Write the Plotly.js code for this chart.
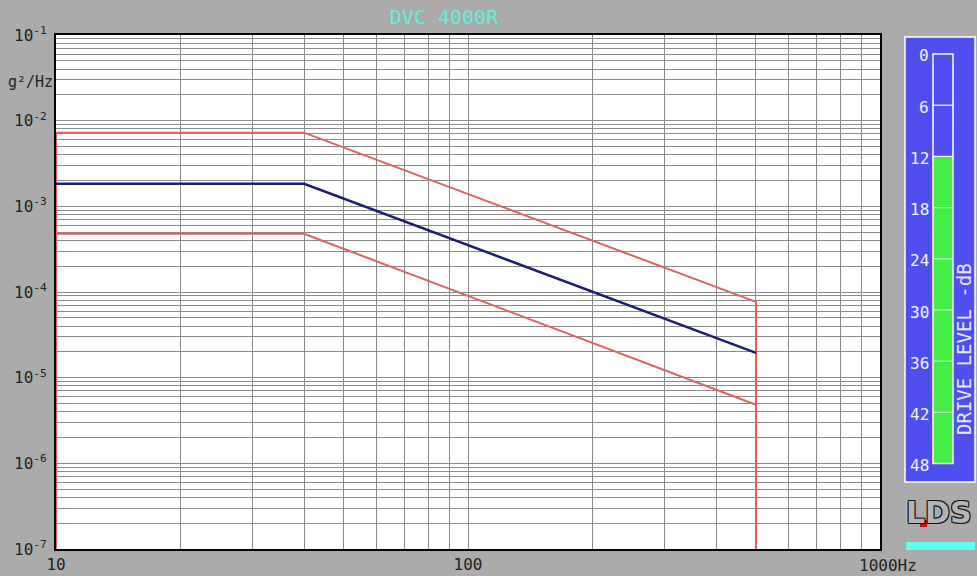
<!DOCTYPE html>
<html>
<head>
<meta charset="utf-8">
<script src="https://cdn.plot.ly/plotly-3.0.1.min.js"></script>
<style>html,body{margin:0;padding:0;background:#ababab;}#chart{width:977px;height:576px;}</style>
</head>
<body>
<div id="chart"></div>
<script>
// ---- data ----
const upperFreq = [10, 10, 40, 500, 500];
const upperPsd  = [1e-7, 7.25e-3, 7.25e-3, 7.67e-5, 1e-7];
const refFreq   = [10, 40, 500];
const refPsd    = [1.83e-3, 1.83e-3, 1.95e-5];
const lowerFreq = [10, 40, 500];
const lowerPsd  = [4.77e-4, 4.77e-4, 4.83e-6];

const xDecades = [10, 100];
const yDecades = [1e-7, 1e-6, 1e-5, 1e-4, 1e-3, 1e-2];
const yTickLabels = ['10<sup>-7</sup>','10<sup>-6</sup>','10<sup>-5</sup>','10<sup>-4</sup>','10<sup>-3</sup>','10<sup>-2</sup>','10<sup>-1</sup>'];
const xTickLabels = ['10', '100'];
const meterLabels = ['0','6','12','18','24','30','36','42','48'];
const driveLevelDb = 12;

// ---- grid positions (1..9 per decade) ----
const xVals = [], xText = [];
xDecades.forEach((d, i) => { for (let k = 1; k <= 9; k++) { xVals.push(d * k); xText.push(k === 1 ? xTickLabels[i] : ' '); } });
xVals.push(1000); xText.push(' ');
const yVals = [], yText = [];
yDecades.forEach((d, i) => { for (let k = 1; k <= 9; k++) { yVals.push(d * k); yText.push(k === 1 ? yTickLabels[i] : ' '); } });
yVals.push(1e-1); yText.push(yTickLabels[6]);

// pixel -> paper helpers for the side panel
const L = 56, R = 880, T = 35, B = 549;
const px = v => (v - L) / (R - L);
const py = v => (B - v) / (B - T);

const mono = 'DejaVu Sans Mono, Liberation Mono, monospace';
const red = '#e06060', navy = '#1c1c7a';

const traces = [
  {x: upperFreq, y: upperPsd, mode: 'lines', line: {color: red, width: 2}, hoverinfo: 'skip'},
  {x: lowerFreq, y: lowerPsd, mode: 'lines', line: {color: red, width: 2}, hoverinfo: 'skip'},
  {x: refFreq, y: refPsd, mode: 'lines', line: {color: navy, width: 2.5}, hoverinfo: 'skip'}
];

const shapes = [];
const annotations = [];
// side panel
shapes.push({type: 'rect', xref: 'paper', yref: 'paper', x0: px(905), x1: px(975), y0: py(482), y1: py(37),
  fillcolor: '#4f4ff0', line: {color: '#ffffff', width: 1.5}, layer: 'above'});
const mTop = 54, mStep = 51.2;
const mY = i => mTop + i * mStep;
const greenTop = mY(driveLevelDb / 6);
shapes.push({type: 'rect', xref: 'paper', yref: 'paper', x0: px(933), x1: px(953), y0: py(mY(8)), y1: py(greenTop),
  fillcolor: '#44ee44', line: {width: 0}, layer: 'above'});
shapes.push({type: 'rect', xref: 'paper', yref: 'paper', x0: px(933), x1: px(953), y0: py(mY(8)), y1: py(mY(0)),
  fillcolor: 'rgba(0,0,0,0)', line: {color: '#ffffff', width: 1.5}, layer: 'above'});
meterLabels.forEach((lab, i) => {
  if (i > 0 && i < 8) {
    shapes.push({type: 'line', xref: 'paper', yref: 'paper', x0: px(933), x1: px(953), y0: py(mY(i)), y1: py(mY(i)),
      line: {color: mY(i) > greenTop ? '#c8f8c8' : '#ffffff', width: 1.2}, layer: 'above'});
  }
  annotations.push({xref: 'paper', yref: 'paper', x: px(931), y: py(mY(i) + 2), xanchor: 'right', yanchor: 'middle',
    text: lab, showarrow: false, font: {family: mono, size: 16, color: '#f4f4f4'}});
});
annotations.push({xref: 'paper', yref: 'paper', x: px(964), y: py(349), xanchor: 'center', yanchor: 'middle',
  text: 'DRIVE LEVEL -dB', textangle: -90, showarrow: false, font: {family: mono, size: 19, color: '#e8e8e8'}});
// LDS logo
annotations.push({xref: 'paper', yref: 'paper', x: px(939), y: py(512), xanchor: 'center', yanchor: 'middle',
  text: '<b>LDS</b>', showarrow: false,
  font: {family: 'DejaVu Sans, sans-serif', size: 30, color: '#b4b4b4',
    shadow: '1px 1px 0 #111, -1px -1px 0 #111, 1px -1px 0 #111, -1px 1px 0 #111'}});
shapes.push({type: 'rect', xref: 'paper', yref: 'paper', x0: px(920), x1: px(927), y0: py(527), y1: py(520),
  fillcolor: '#cc1111', line: {width: 0}, layer: 'above'});
shapes.push({type: 'rect', xref: 'paper', yref: 'paper', x0: px(906), x1: px(975), y0: py(550), y1: py(542),
  fillcolor: '#66ffee', line: {width: 0}, layer: 'above'});
// axis unit labels
annotations.push({xref: 'paper', yref: 'paper', x: px(857), y: py(565), xanchor: 'left', yanchor: 'middle',
  text: '1000Hz', showarrow: false, font: {family: mono, size: 16, color: '#222'}});
annotations.push({xref: 'paper', yref: 'paper', x: px(55), y: py(82), xanchor: 'right', yanchor: 'middle',
  text: 'g²/Hz', showarrow: false, font: {family: mono, size: 15, color: '#222'}});

const layout = {
  width: 977, height: 576,
  paper_bgcolor: '#ababab', plot_bgcolor: '#ffffff',
  margin: {l: L, r: 977 - R, t: T, b: 576 - B, pad: 0},
  showlegend: false,
  title: {text: 'DVC 4000R', xref: 'container', yref: 'container', x: 444 / 977, y: 1 - 17 / 576,
    xanchor: 'center', yanchor: 'middle', font: {family: mono, size: 20, color: '#66eedd'}},
  xaxis: {type: 'log', range: [1, 3], tickmode: 'array', tickvals: xVals, ticktext: xText,
    showgrid: true, gridcolor: '#8a8a8a', gridwidth: 1, zeroline: false,
    showline: true, mirror: true, linecolor: '#000', linewidth: 2, ticks: '',
    tickfont: {family: mono, size: 16, color: '#222'}, tickangle: 0},
  yaxis: {type: 'log', range: [-7, -1], tickmode: 'array', tickvals: yVals, ticktext: yText,
    showgrid: true, gridcolor: '#8a8a8a', gridwidth: 1, zeroline: false,
    showline: true, mirror: true, linecolor: '#000', linewidth: 2, ticks: '',
    tickfont: {family: mono, size: 16, color: '#222'}, ticklabelstandoff: 4},
  shapes: shapes,
  annotations: annotations
};

Plotly.newPlot('chart', traces, layout, {staticPlot: true, displayModeBar: false});
</script>
</body>
</html>
